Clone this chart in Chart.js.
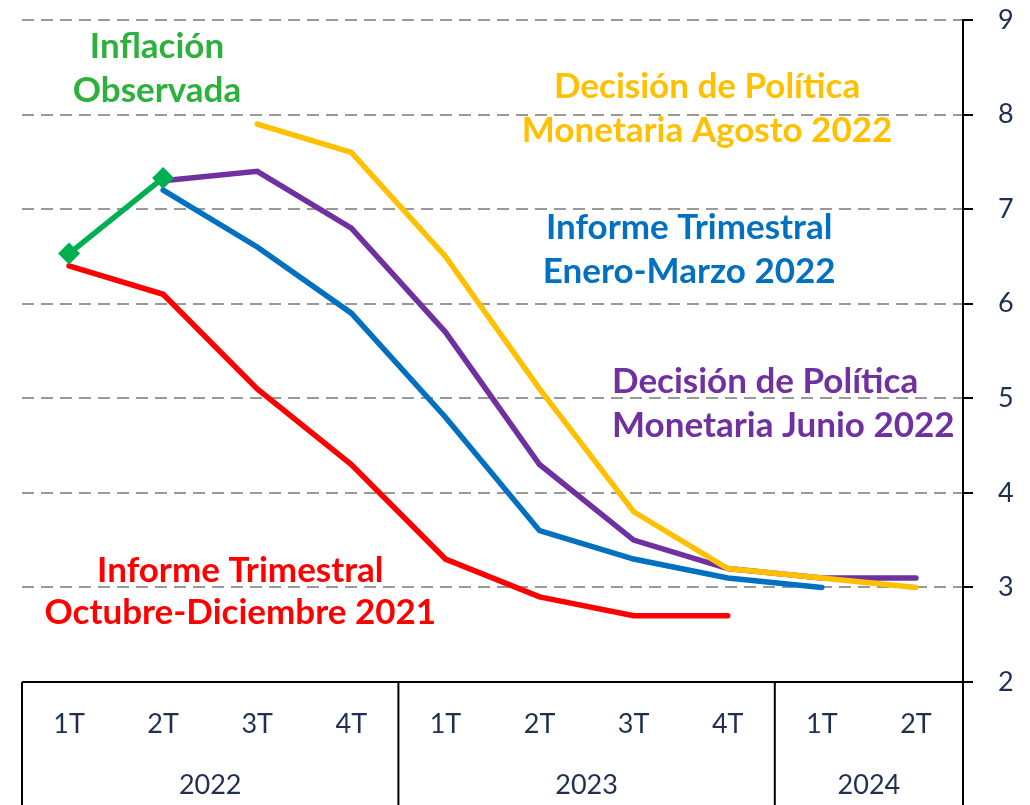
<!DOCTYPE html>
<html>
<head>
<meta charset="utf-8">
<script src="https://cdn.jsdelivr.net/npm/chart.js@4.4.1/dist/chart.umd.min.js"></script>
<style>
  html, body { margin: 0; padding: 0; background: #fff; }
  #wrap { width: 1030px; height: 805px; }
</style>
</head>
<body>
<div id="wrap"><canvas id="chart" width="1030" height="805"></canvas></div>
<script>
// quarters and years
const quarters = ["1T", "2T", "3T", "4T", "1T", "2T", "3T", "4T", "1T", "2T"];
const years = [
    { label: "2022", from: 0, to: 3 },
    { label: "2023", from: 4, to: 7 },
    { label: "2024", from: 8, to: 9 }
];
const yTicks = [2, 3, 4, 5, 6, 7, 8, 9];

// series (inflation, %)
const observada = [6.53, 7.33, null, null, null, null, null, null, null, null];
const itOctDic2021 = [6.4, 6.1, 5.1, 4.3, 3.3, 2.9, 2.7, 2.7, null, null];
const itEneMar2022 = [null, 7.2, 6.6, 5.9, 4.8, 3.6, 3.3, 3.1, 3.0, null];
const dpmJunio2022 = [null, 7.3, 7.4, 6.8, 5.7, 4.3, 3.5, 3.2, 3.1, 3.1];
const dpmAgosto2022 = [null, null, 7.9, 7.6, 6.5, 5.1, 3.8, 3.2, 3.1, 3.0];

// series labels placed in data coordinates (x = quarter index, y = value)
const seriesLabels = [
    { lines: ["Inflación", "Observada"], color: "#2DB03C", x: 0.935, y: [8.72, 8.25], align: "center" },
    { lines: ["Decisión de Política", "Monetaria Agosto 2022"], color: "#FFC000", x: 6.78, y: [8.29, 7.83], align: "center" },
    { lines: ["Informe Trimestral", "Enero-Marzo 2022"], color: "#0070C0", x: 6.59, y: [6.80, 6.34], align: "center" },
    { lines: ["Decisión de Política", "Monetaria Junio 2022"], color: "#7030A0", x: 5.77, y: [5.17, 4.71], align: "left" },
    { lines: ["Informe Trimestral", "Octubre-Diciembre 2021"], color: "#FF0000", x: 1.82, y: [3.18, 2.73], align: "center" }
];

const textColor = "#1F2F4F";
const labelFont = "Lato, 'Open Sans', sans-serif";

const tablePlugin = {
    id: "tablePlugin",
    afterDraw(chart) {
        const { ctx, chartArea, scales } = chart;
        const x = scales.x, y = scales.y;
        const bottom = chartArea.bottom;
        const H = chart.height;
        const step = x.getPixelForValue(1) - x.getPixelForValue(0);

        ctx.save();
        ctx.strokeStyle = "#000";
        ctx.lineWidth = 2;
        ctx.beginPath();
        ctx.moveTo(chartArea.left, bottom);
        ctx.lineTo(chartArea.right + 10, bottom);
        // table borders between years
        ctx.moveTo(chartArea.left, bottom);
        ctx.lineTo(chartArea.left, H);
        years.forEach(g => {
            const xr = x.getPixelForValue(g.to) + step / 2;
            ctx.moveTo(xr, bottom);
            ctx.lineTo(xr, H);
        });
        ctx.stroke();

        ctx.fillStyle = textColor;
        ctx.textAlign = "center";
        ctx.textBaseline = "middle";
        ctx.font = "27px " + labelFont;
        quarters.forEach((q, i) => {
            ctx.fillText(q, x.getPixelForValue(i), bottom + 42);
        });
        years.forEach(g => {
            const xc = (x.getPixelForValue(g.from) + x.getPixelForValue(g.to)) / 2;
            ctx.fillText(g.label, xc, bottom + 103);
        });

        // series labels
        ctx.font = "bold 35px " + labelFont;
        seriesLabels.forEach(s => {
            ctx.fillStyle = s.color;
            ctx.textAlign = s.align;
            const px = x.getPixelForValue(0) + s.x * step;
            s.lines.forEach((t, k) => {
                ctx.fillText(t, px, y.getPixelForValue(s.y[k]));
            });
        });
        ctx.restore();
    }
};

function line(data, color, order) {
    return {
        data: data,
        borderColor: color,
        backgroundColor: color,
        borderWidth: 5.5,
        borderCapStyle: "round",
        borderJoinStyle: "miter",
        pointRadius: 0,
        fill: false,
        tension: 0,
        order: order
    };
}

const greenSet = line(observada, "#00B050", 0);
greenSet.pointRadius = 11;
greenSet.pointStyle = "rectRot";
greenSet.pointBackgroundColor = "#00B050";
greenSet.pointBorderWidth = 0;

new Chart(document.getElementById("chart").getContext("2d"), {
    type: "line",
    data: {
        labels: quarters.map((q, i) => i),
        datasets: [
            greenSet,
            line(dpmAgosto2022, "#FFC000", 1),
            line(dpmJunio2022, "#7030A0", 2),
            line(itEneMar2022, "#0070C0", 3),
            line(itOctDic2021, "#FF0000", 4)
        ]
    },
    options: {
        responsive: false,
        animation: false,
        layout: { padding: { left: 22, top: 20, bottom: 123, right: 0 } },
        plugins: { legend: { display: false }, tooltip: { enabled: false } },
        scales: {
            x: {
                type: "category",
                offset: true,
                display: false
            },
            y: {
                position: "right",
                min: 2,
                max: 9,
                afterFit(scale) {
                    scale.width = 67;
                    scale.paddingTop = 0;
                    scale.paddingBottom = 0;
                },
                afterBuildTicks(scale) { scale.ticks = yTicks.map(v => ({ value: v })); },
                border: { display: true, color: "#000", width: 2, dash: [12, 7] },
                grid: {
                    color: ctx => (ctx.tick && ctx.tick.value === 2) ? "rgba(0,0,0,0)" : "#999999",
                    lineWidth: 2,
                    drawTicks: true,
                    tickLength: 10,
                    tickColor: "#000",
                    tickWidth: 2
                },
                ticks: {
                    color: textColor,
                    padding: 25,
                    font: { family: labelFont, size: 27 }
                }
            }
        }
    },
    plugins: [tablePlugin]
});
</script>
</body>
</html>
